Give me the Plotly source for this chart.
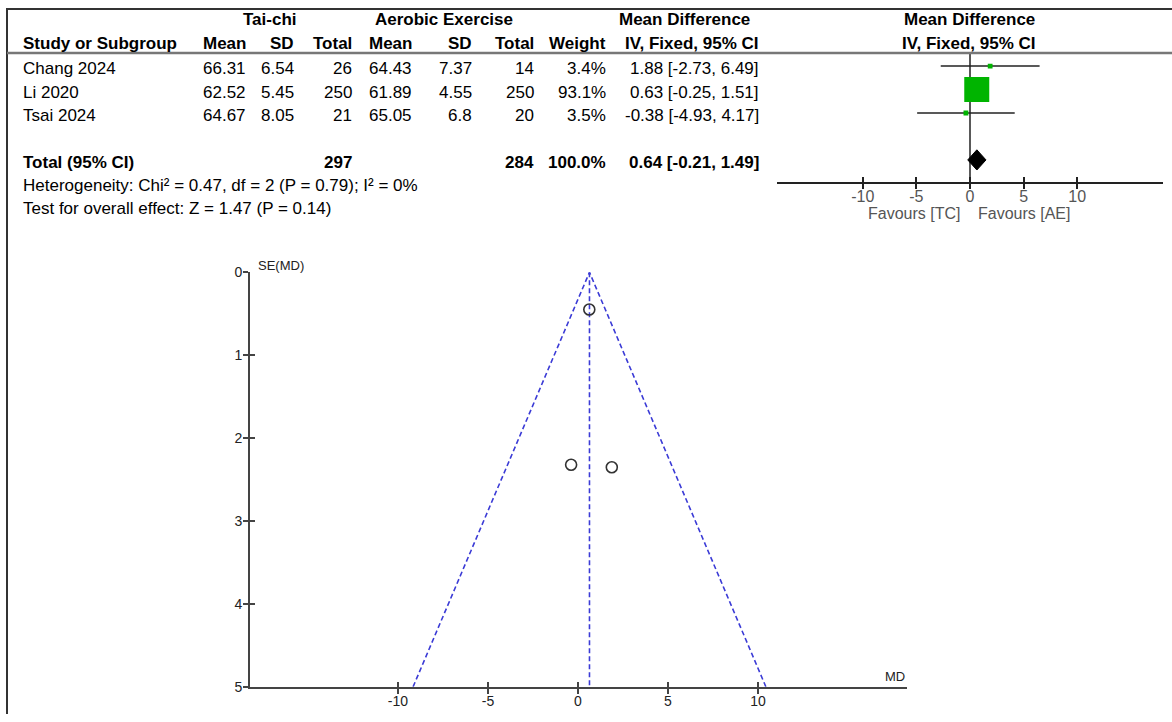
import plotly.graph_objects as go

# ---------------- data ----------------
studies = ["Chang 2024", "Li 2020", "Tsai 2024"]
tc_mean = [66.31, 62.52, 64.67]
tc_sd = [6.54, 5.45, 8.05]
tc_n = [26, 250, 21]
ae_mean = [64.43, 61.89, 65.05]
ae_sd = [7.37, 4.55, 6.8]
ae_n = [14, 250, 20]
weight = [3.4, 93.1, 3.5]
md = [1.88, 0.63, -0.38]
ci_lo = [-2.73, -0.25, -4.93]
ci_hi = [6.49, 1.51, 4.17]
total_tc_n = 297
total_ae_n = 284
total_weight = 100.0
total_md = 0.64
total_lo = -0.21
total_hi = 1.49
heterogeneity = "Heterogeneity: Chi² = 0.47, df = 2 (P = 0.79); I² = 0%"
overall = "Test for overall effect: Z = 1.47 (P = 0.14)"
forest_ticks = [-10, -5, 0, 5, 10]
funnel_xticks = [-10, -5, 0, 5, 10]
funnel_yticks = [0, 1, 2, 3, 4, 5]
fav_left = "Favours [TC]"
fav_right = "Favours [AE]"
z = 1.96
se_max = 5

# ---------------- layout helpers ----------------
W, H = 1172, 722
FONT = "Liberation Sans, Arial, sans-serif"
# vertical calibration of the photographed page (measured): shown_y = A + B * page_y
A_Y, B_Y = 7.4, 0.979


def px(x):
    return x / W


def py(y):
    page_y = (y - A_Y) / B_Y
    return 1 - page_y / H


annotations = []


def ann(text, x, y, anchor="left", bold=False, size=17, color="#000000"):
    if bold:
        text = "<b>" + text + "</b>"
    annotations.append(dict(
        text=text, x=px(x), y=py(y), xref="paper", yref="paper",
        xanchor=anchor, yanchor="middle", showarrow=False, borderpad=0,
        font=dict(family=FONT, size=size, color=color)))


rows = [1, 2, 3]
total_row = 5
ROW0_PX, ROW_PX = 65.5, 23.5


def row_px(r):
    return ROW0_PX + (r - 1) * ROW_PX + 2.5


# column right edges (px)
col_tc_mean, col_tc_sd, col_tc_n = 247, 295, 353
col_ae_mean, col_ae_sd, col_ae_n = 413, 473, 535
col_w, col_ci = 607, 760

# headers
ann("Tai-chi", 270, 19, "center", True)
ann("Aerobic Exercise", 444, 19, "center", True)
ann("Mean Difference", 684, 19, "center", True)
ann("Mean Difference", 969, 19, "center", True)
ann("Study or Subgroup", 22, 42.5, "left", True)
for t, x in [("Mean", col_tc_mean), ("SD", col_tc_sd), ("Total", col_tc_n),
             ("Mean", col_ae_mean), ("SD", col_ae_sd), ("Total", col_ae_n),
             ("Weight", col_w), ("IV, Fixed, 95% CI", col_ci)]:
    ann(t, x, 42.5, "right", True)
ann("IV, Fixed, 95% CI", 969, 42.5, "center", True)

for i, r in enumerate(rows):
    y = row_px(r)
    ann(studies[i], 22, y)
    ann(str(tc_mean[i]), col_tc_mean, y, "right")
    ann(str(tc_sd[i]), col_tc_sd, y, "right")
    ann(str(tc_n[i]), col_tc_n, y, "right")
    ann(str(ae_mean[i]), col_ae_mean, y, "right")
    ann(str(ae_sd[i]), col_ae_sd, y, "right")
    ann(str(ae_n[i]), col_ae_n, y, "right")
    ann(f"{weight[i]:.1f}%", col_w, y, "right")
    ann(f"{md[i]:.2f} [{ci_lo[i]:.2f}, {ci_hi[i]:.2f}]", col_ci, y, "right")

yt = row_px(total_row)
ann("Total (95% CI)", 22, yt, "left", True)
ann(str(total_tc_n), col_tc_n, yt, "right", True)
ann(str(total_ae_n), col_ae_n, yt, "right", True)
ann(f"{total_weight:.1f}%", col_w, yt, "right", True)
ann(f"{total_md:.2f} [{total_lo:.2f}, {total_hi:.2f}]", col_ci, yt, "right", True)
ann(heterogeneity, 22, 185)
ann(overall, 22, 208)

# forest favours labels
ann(fav_left, 961, 213, "right", size=16, color="#555555")
ann(fav_right, 977, 213, "left", size=16, color="#555555")

# funnel axis titles
ann("SE(MD)", 257, 265, "left", size=13, color="#222222")
ann("MD", 895, 677, "center", size=13, color="#222222")

fig = go.Figure()

# ---------------- forest plot (x2 / y2) ----------------
max_w = max(weight)
fig.add_trace(go.Scatter(
    x=md, y=rows, mode="markers", xaxis="x2", yaxis="y2",
    error_x=dict(type="data", symmetric=False,
                 array=[h - m for h, m in zip(ci_hi, md)],
                 arrayminus=[m - l for m, l in zip(md, ci_lo)],
                 width=0, thickness=1.5, color="#222222"),
    marker=dict(symbol="square", color="#00B400", opacity=1,
                size=[25 * (w / max_w) ** 0.5 for w in weight],
                line=dict(width=0)),
    showlegend=False, hoverinfo="skip"))
dh = 0.43
fig.add_trace(go.Scatter(
    x=[total_lo, total_md, total_hi, total_md, total_lo],
    y=[total_row, total_row - dh, total_row, total_row + dh, total_row],
    fill="toself", fillcolor="#000000", mode="lines",
    line=dict(color="#000000", width=1), xaxis="x2", yaxis="y2",
    showlegend=False, hoverinfo="skip"))

# ---------------- funnel plot (x / y) ----------------
se = [(h - l) / (2 * z) for l, h in zip(ci_lo, ci_hi)]
dash_line = dict(color="#3b3bd6", width=1.6, dash="5px,3px")
fig.add_trace(go.Scatter(
    x=[total_md - z * se_max, total_md, total_md + z * se_max],
    y=[se_max, 0, se_max], mode="lines", line=dash_line,
    showlegend=False, hoverinfo="skip"))
fig.add_trace(go.Scatter(
    x=[total_md, total_md], y=[0, se_max], mode="lines", line=dash_line,
    showlegend=False, hoverinfo="skip"))
fig.add_trace(go.Scatter(
    x=md, y=se, mode="markers",
    marker=dict(symbol="circle-open", size=11, color="#333333",
                line=dict(color="#333333", width=1.6)),
    showlegend=False, hoverinfo="skip"))
# dummy traces for overlay axes (crossing ticks)
fig.add_trace(go.Scatter(x=[None], y=[None], xaxis="x3", yaxis="y3",
                         showlegend=False, hoverinfo="skip"))
fig.add_trace(go.Scatter(x=[None], y=[None], xaxis="x4", yaxis="y2",
                         showlegend=False, hoverinfo="skip"))

fx_dom = [px(250), px(907)]
fy_dom = [py(687), py(272)]
fx_rng = [-18.22, 18.28]
fy_rng = [se_max, 0]
axis_col = "#444444"
tickfont_f = dict(family=FONT, size=14, color="#222222")

fig.update_layout(
    width=W, height=H, margin=dict(l=0, r=0, t=0, b=0),
    paper_bgcolor="white", plot_bgcolor="rgba(0,0,0,0)",
    annotations=annotations,
    xaxis=dict(domain=fx_dom, range=fx_rng, anchor="y", showgrid=False,
               zeroline=False, showline=True, linecolor=axis_col, linewidth=2,
               ticks="outside", ticklen=5, tickwidth=1.5, tickcolor=axis_col,
               tickvals=funnel_xticks, ticktext=[str(v) for v in funnel_xticks],
               tickfont=tickfont_f, ticklabelstandoff=-5),
    yaxis=dict(domain=fy_dom, range=fy_rng, anchor="x", showgrid=False,
               zeroline=False, showline=True, linecolor=axis_col, linewidth=2,
               ticks="outside", ticklen=5, tickwidth=1.5, tickcolor=axis_col,
               tickvals=funnel_yticks, tickfont=tickfont_f,
               ticklabelstandoff=-2),
    xaxis3=dict(overlaying="x", range=fx_rng, anchor="y", showgrid=False,
                zeroline=False, showline=False, showticklabels=False,
                ticks="inside", ticklen=5, tickwidth=1.5, tickcolor=axis_col,
                tickvals=funnel_xticks),
    yaxis3=dict(overlaying="y", range=fy_rng, anchor="x", showgrid=False,
                zeroline=False, showline=False, showticklabels=False,
                ticks="inside", ticklen=5, tickwidth=1.5, tickcolor=axis_col,
                tickvals=funnel_yticks),
    xaxis2=dict(domain=[px(777), px(1163)], range=[-18, 18], anchor="y2",
                showgrid=False, zeroline=False, showline=True,
                linecolor="#222222", linewidth=1.5, ticks="outside",
                ticklen=5, tickwidth=1.5, tickcolor="#222222",
                tickvals=forest_ticks,
                ticktext=[str(v) for v in forest_ticks],
                ticklabelstandoff=-6,
                tickfont=dict(family=FONT, size=16, color="#555555")),
    xaxis4=dict(overlaying="x2", range=[-18, 18], anchor="y2",
                showgrid=False, zeroline=False, showline=False,
                showticklabels=False, ticks="inside", ticklen=5,
                tickwidth=1.5, tickcolor="#222222", tickvals=forest_ticks),
    yaxis2=dict(domain=[py(182), py(53)],
                range=[total_row + 22.5 / ROW_PX, 1 - 12.5 / ROW_PX],
                anchor="x2", visible=False),
    shapes=[
        dict(type="line", xref="paper", yref="paper", x0=px(7), x1=1,
             y0=1 - 1 / H, y1=1 - 1 / H,
             line=dict(color="#333333", width=2)),
        dict(type="line", xref="paper", yref="paper", x0=px(7), x1=px(7),
             y0=1, y1=0, line=dict(color="#333333", width=2)),
        dict(type="line", xref="paper", yref="paper", x0=px(7), x1=1,
             y0=py(52.5), y1=py(52.5), line=dict(color="#777777", width=2.5)),
        dict(type="line", xref="x2", yref="y2 domain", x0=0, x1=0,
             y0=0, y1=1, layer="below",
             line=dict(color="#222222", width=1.5)),
    ],
)

fig.write_html("out.html", config={"displayModeBar": False},
               post_script="document.body.style.margin='0px';")
